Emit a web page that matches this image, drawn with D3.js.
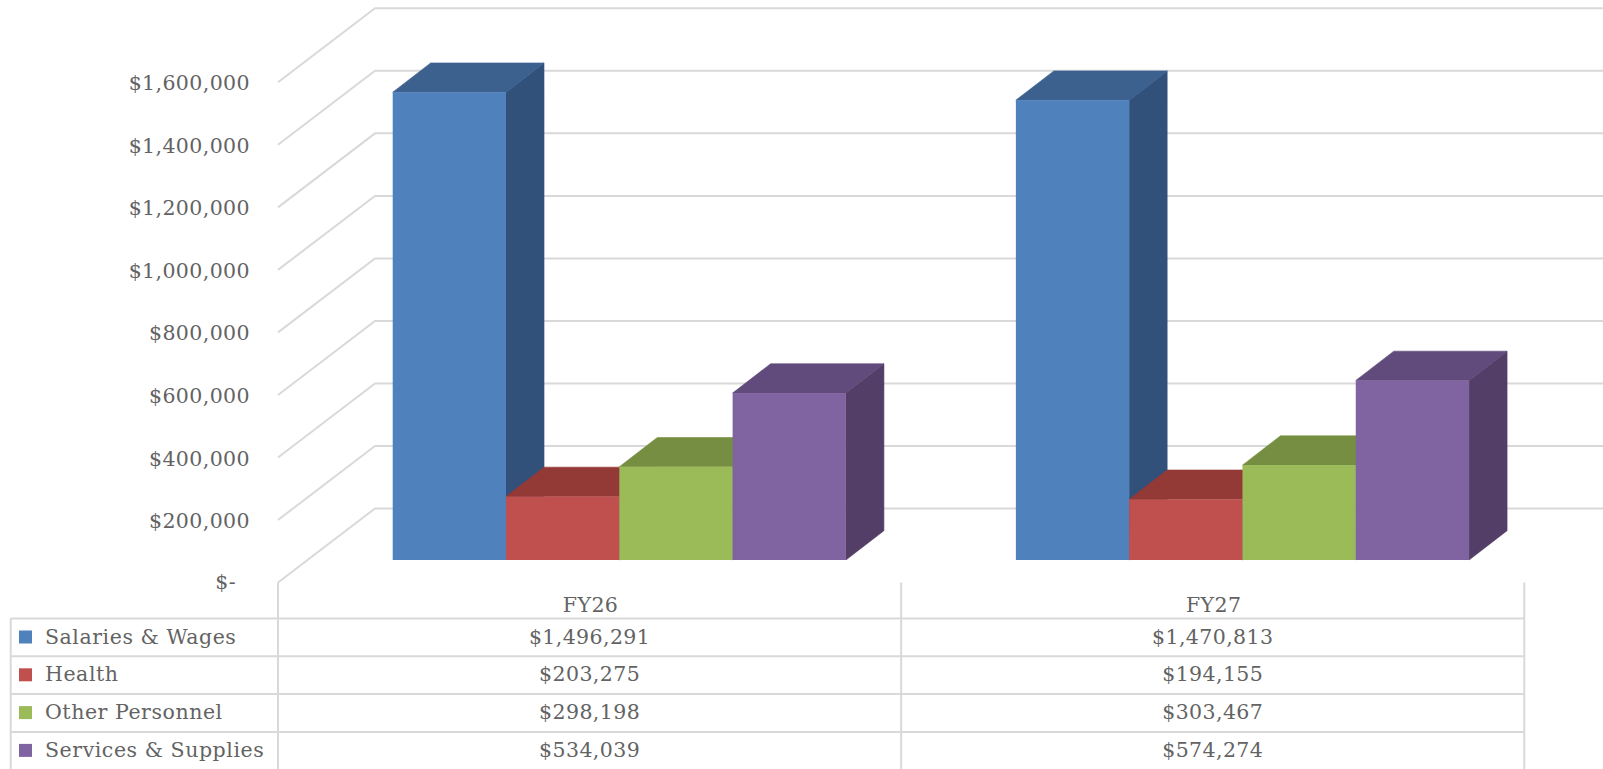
<!DOCTYPE html>
<html>
<head>
<meta charset="utf-8">
<title>Budget by fiscal year</title>
<script src="https://cdn.jsdelivr.net/npm/d3@7"></script>
<style>
  html, body { margin: 0; padding: 0; background: #fff; overflow: hidden; }
  text { font-family: "DejaVu Serif", serif; fill: #636363; font-size: 20.5px; letter-spacing: 0.4px; }
  .name { letter-spacing: 0.55px; }
</style>
</head>
<body>
<div id="chart"></div>
<script>
const categories = ["FY26", "FY27"];
const seriesNames = ["Salaries & Wages", "Health", "Other Personnel", "Services & Supplies"];
const salaries = [1496291, 1470813];
const health = [203275, 194155];
const otherPersonnel = [298198, 303467];
const services = [534039, 574274];
const allSeries = [salaries, health, otherPersonnel, services];
const yTicks = [0, 200000, 400000, 600000, 800000, 1000000, 1200000, 1400000, 1600000];

const frontColors = ["#4f81bd", "#c0504d", "#9bbb59", "#8064a2"];
const topColors = ["#3c618f", "#933936", "#758e41", "#614b7c"];
const sideColors = ["#31507a", "#7a302e", "#5f7436", "#523e67"];
const gridColor = "#d9d9d9";

const width = 1603, height = 769;

// front plane of the plot, the bars stand a bit further in
const plotLeft = 278, plotRight = 1524.3;
const wallDx = 97, wallDy = 74;      // depth of floor and walls
const barDx = 38, barDy = 29.3;      // depth of one bar
const zeroFront = 582.5, topFront = 82.3;
const barBase = 560;                 // bottom of the bars front face

const svg = d3.select("#chart").append("svg")
    .attr("width", width)
    .attr("height", height);

const x = d3.scaleBand().domain(categories).range([plotLeft, plotRight]);
const y = d3.scaleLinear().domain([0, 1600000]).range([zeroFront, topFront]);
const barX = d3.scaleBand().domain(d3.range(seriesNames.length))
    .range([0, x.bandwidth()])
    .paddingInner(0)
    .paddingOuter(0.75)
    .align(0.675);
const barH = function (v) { return y(0) - y(v); };

// gridlines: diagonal along the side wall, then flat along the back wall
svg.append("g").selectAll("path")
    .data(yTicks)
    .enter().append("path")
    .attr("fill", "none")
    .attr("stroke", gridColor)
    .attr("stroke-width", 2)
    .attr("d", function (d) {
        return d3.line()([[plotLeft, y(d)], [plotLeft + wallDx, y(d) - wallDy], [width, y(d) - wallDy]]);
    });

// y axis labels
const yAxis = d3.axisLeft(y)
    .tickValues(yTicks)
    .tickSize(0)
    .tickPadding(28)
    .tickFormat(function (d) { return d === 0 ? "$-" : d3.format("$,")(d); });

svg.append("g")
    .attr("transform", "translate(" + plotLeft + ",0)")
    .call(yAxis)
    .call(function (g) { g.select(".domain").remove(); })
    .selectAll("text")
    .style("font-family", null)
    .style("font-size", null)
    .attr("dy", function (d) { return d === 0 ? "0.3em" : "0.37em"; })
    .attr("x", function (d) { return d === 0 ? -42 : -28; });

// bars, painted left to right so each covers the faces of the one before
const bars = svg.append("g");
categories.forEach(function (cat, c) {
    allSeries.forEach(function (values, s) {
        const x0 = x(cat) + barX(s);
        const x1 = x0 + barX.bandwidth();
        const top = barBase - barH(values[c]);
        const g = bars.append("g");
        g.append("path")
            .attr("fill", sideColors[s])
            .attr("stroke", sideColors[s])
            .attr("stroke-width", 0.6)
            .attr("d", d3.line()([[x1, barBase], [x1 + barDx, barBase - barDy], [x1 + barDx, top - barDy], [x1, top]]) + "Z");
        g.append("path")
            .attr("fill", topColors[s])
            .attr("stroke", topColors[s])
            .attr("stroke-width", 0.6)
            .attr("d", d3.line()([[x0, top], [x0 + barDx, top - barDy], [x1 + barDx, top - barDy], [x1, top]]) + "Z");
        g.append("rect")
            .attr("x", x0)
            .attr("y", top)
            .attr("width", barX.bandwidth())
            .attr("height", barBase - top)
            .attr("fill", frontColors[s]);
    });
});

// data table under the chart
const tableLeft = 10.7, tableTop = 618.5, rowH = 37.8;
const table = svg.append("g");
const rows = d3.range(seriesNames.length);

table.selectAll(".hline")
    .data(rows)
    .enter().append("line")
    .attr("class", "hline")
    .attr("x1", tableLeft)
    .attr("x2", plotRight)
    .attr("y1", function (d) { return tableTop + d * rowH; })
    .attr("y2", function (d) { return tableTop + d * rowH; })
    .attr("stroke", gridColor)
    .attr("stroke-width", 2);

table.selectAll(".vline")
    .data([plotLeft, x(categories[1]), plotRight])
    .enter().append("line")
    .attr("class", "vline")
    .attr("x1", function (d) { return d; })
    .attr("x2", function (d) { return d; })
    .attr("y1", zeroFront)
    .attr("y2", height)
    .attr("stroke", gridColor)
    .attr("stroke-width", 2);

table.append("line")
    .attr("x1", tableLeft).attr("x2", tableLeft)
    .attr("y1", tableTop).attr("y2", height)
    .attr("stroke", gridColor)
    .attr("stroke-width", 2);

table.selectAll(".cat")
    .data(categories)
    .enter().append("text")
    .attr("class", "cat")
    .attr("x", function (d) { return x(d) + x.bandwidth() / 2 + 1; })
    .attr("y", 612)
    .attr("text-anchor", "middle")
    .text(function (d) { return d; });

table.selectAll(".key")
    .data(rows)
    .enter().append("rect")
    .attr("class", "key")
    .attr("x", 19)
    .attr("y", function (d) { return tableTop + d * rowH + 12; })
    .attr("width", 13)
    .attr("height", 13)
    .attr("fill", function (d) { return frontColors[d]; });

table.selectAll(".name")
    .data(rows)
    .enter().append("text")
    .attr("class", "name")
    .attr("x", 45)
    .attr("y", function (d) { return tableTop + d * rowH + 25; })
    .text(function (d) { return seriesNames[d]; });

categories.forEach(function (cat, c) {
    table.selectAll(".val" + c)
        .data(rows)
        .enter().append("text")
        .attr("class", "val" + c)
        .attr("x", x(cat) + x.bandwidth() / 2)
        .attr("y", function (d) { return tableTop + d * rowH + 25; })
        .attr("text-anchor", "middle")
        .text(function (d) { return d3.format("$,")(allSeries[d][c]); });
});
</script>
</body>
</html>
